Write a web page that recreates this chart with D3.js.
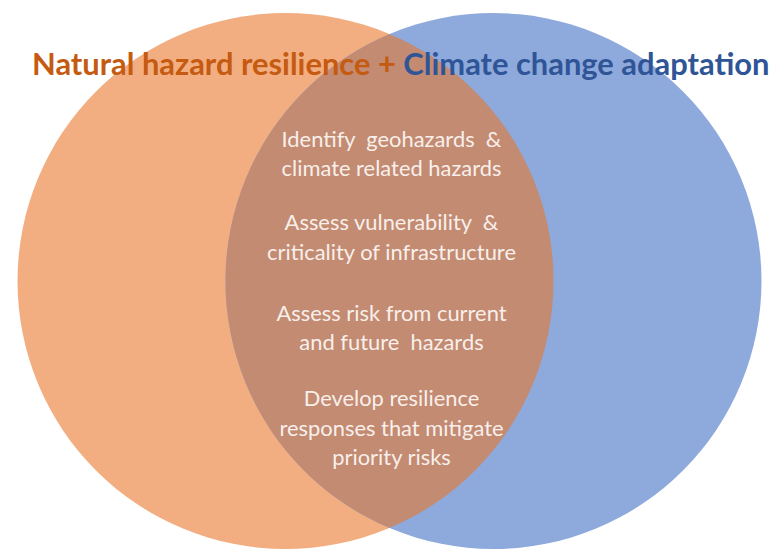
<!DOCTYPE html>
<meta charset="utf-8">
<html>
<style>
  body { margin: 0; background: #fff; }
  svg text { font-family: Lato, "Noto Sans", sans-serif; white-space: pre; }
</style>
<body>
<div id="venn"></div>
<script src="https://d3js.org/d3.v7.min.js"></script>
<script>
// sets of the diagram (centre along the axis, in diagram units) and their colours
const setNames = ["Natural hazard resilience", "Climate change adaptation"];
const setCentres = [-1, 1];
const setFills = ["#F2AE80", "#8EA9DB"];
const titleColours = ["#C55A11", "#2F5597"];
const overlapFill = "#C38B72";

// shared steps written in the overlap, one entry per block
const steps = [
  ["Identify  geohazards  &", "climate related hazards"],
  ["Assess vulnerability  &", "criticality of infrastructure"],
  ["Assess risk from current", "and future  hazards"],
  ["Develop resilience", "responses that mitigate", "priority risks"]
];
const stepCentres = [154, 237.5, 328, 428];

const width = 776, height = 552;
const svg = d3.select("#venn").append("svg")
    .attr("width", width)
    .attr("height", height);

// one diagram unit = half the distance between circle centres
const x = d3.scaleLinear().domain([-1, 1]).range([285.5, 493.5]);
const cy = 281;
const r = 268;

svg.append("defs").append("clipPath")
    .attr("id", "leftClip")
  .append("circle")
    .attr("cx", x(setCentres[0]))
    .attr("cy", cy)
    .attr("r", r);

svg.selectAll("circle.set")
  .data(setCentres)
  .enter()
  .append("circle")
    .attr("class", "set")
    .attr("cx", d => x(d))
    .attr("cy", cy)
    .attr("r", r)
    .style("fill", (d, i) => setFills[i]);

// the overlap: right circle clipped by the left one
svg.append("circle")
    .attr("cx", x(setCentres[1]))
    .attr("cy", cy)
    .attr("r", r)
    .attr("clip-path", "url(#leftClip)")
    .style("fill", overlapFill);

// title
const title = svg.append("text")
    .attr("x", 32)
    .attr("y", 75)
    .style("font-weight", "bold")
    .style("font-size", "28px");
title.append("tspan").style("fill", titleColours[0]).text(setNames[0] + " + ");
title.append("tspan").style("fill", titleColours[1]).text(setNames[1]);
// stretch the font so the title spans the same width as the original
const tw = title.node().getComputedTextLength();
title.style("font-size", (28 * 738 / tw) + "px");

// steps inside the overlap
const midX = (x(setCentres[0]) + x(setCentres[1])) / 2 + 2;
const lineGap = 29.5;
const stepText = svg.append("g").style("font-size", "18px").style("fill", "#F8EFEB");
steps.forEach(function(lines, i) {
  const top = stepCentres[i] - (lines.length - 1) * lineGap / 2;
  stepText.append("g").selectAll("text")
    .data(lines)
    .enter()
    .append("text")
      .attr("x", midX)
      .attr("y", (d, j) => top + j * lineGap)
      .attr("dy", "0.35em")
      .attr("text-anchor", "middle")
      .text(d => d);
});
// the longest line ("criticality of infrastructure") is about 249px wide
const longest = stepText.selectAll("text").nodes()[3].getComputedTextLength();
stepText.style("font-size", (18 * 249 / longest) + "px");
</script>
</body>
</html>
